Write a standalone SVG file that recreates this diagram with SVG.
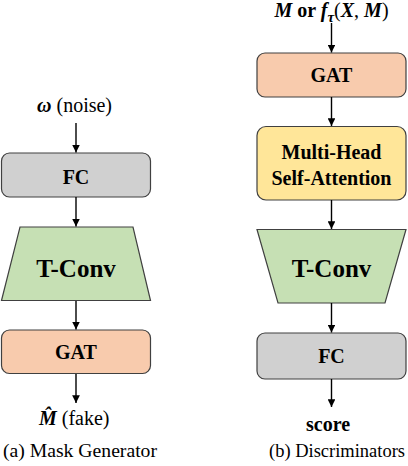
<svg xmlns="http://www.w3.org/2000/svg" width="408" height="466" viewBox="0 0 408 466">
<style>
.box{stroke:#404040;stroke-width:1.2}
.fc{fill:#d0d0d0}.gat{fill:#f8cbad}.tc{fill:#c6e0b4}.mh{fill:#ffe699}
.lbl{font-family:"Liberation Serif","Times New Roman",serif;font-weight:bold;font-size:20px;text-anchor:middle;fill:#000}
.big{font-size:25px}
.txt{font-family:"Liberation Serif","Times New Roman",serif;font-size:20px;fill:#000}
.cap{font-family:"Liberation Serif","Times New Roman",serif;font-size:19px;fill:#000}
.bi{font-weight:bold;font-style:italic}
.b{font-weight:bold}
.edge{stroke:#000;stroke-width:1.4;fill:none;marker-end:url(#ah)}
</style>
<defs>
<marker id="ah" viewBox="0 0 10 10" refX="10" refY="5" markerWidth="5.5" markerHeight="5.5" markerUnits="strokeWidth" orient="auto">
<path d="M0,0 L10,5 L0,10 z" fill="#000"/>
</marker>
</defs>

<!-- Left: Mask Generator -->
<g id="noise-label"><text class="txt" x="37" y="112" font-size="21.5"><tspan class="bi">ω</tspan> (noise)</text></g>
<g id="gen-fc"><rect class="box fc" x="1.5" y="153" width="149" height="44" rx="8"/><text class="lbl" x="76" y="184">FC</text></g>
<g id="gen-tconv"><path class="box tc" d="M20,227 L133,227 L150.5,300.5 L1.5,300.5 Z"/><text class="lbl big" x="76" y="277">T-Conv</text></g>
<g id="gen-gat"><rect class="box gat" x="1.5" y="330" width="149" height="43.5" rx="8"/><text class="lbl" x="76" y="359">GAT</text></g>
<g id="fake-label"><text class="txt" x="39" y="425" font-size="20.5"><tspan class="bi">M̂</tspan> (fake)</text></g>
<g id="caption-a"><text class="cap" x="3" y="457" textLength="154" lengthAdjust="spacingAndGlyphs">(a)  Mask Generator</text></g>

<!-- Right: Discriminators -->
<g id="input-label"><text class="txt" x="331.5" y="17" font-size="21" text-anchor="middle"><tspan class="bi">M</tspan><tspan class="b"> or </tspan><tspan class="bi">f</tspan><tspan class="bi" font-size="15" dy="5">τ</tspan><tspan dy="-5">(</tspan><tspan class="bi">X</tspan>, <tspan class="bi">M</tspan>)</text></g>
<g id="disc-gat"><rect class="box gat" x="257" y="53" width="149" height="44" rx="8"/><text class="lbl" x="331.5" y="82">GAT</text></g>
<g id="disc-mhsa"><rect class="box mh" x="257" y="126.5" width="149" height="73.5" rx="9"/><text class="lbl" x="331.5" y="159">Multi-Head</text><text class="lbl" x="331.5" y="185">Self-Attention</text></g>
<g id="disc-tconv"><path class="box tc" d="M257,229.5 L406,229.5 L385,303 L278,303 Z"/><text class="lbl big" x="331.5" y="277">T-Conv</text></g>
<g id="disc-fc"><rect class="box fc" x="257" y="333" width="149" height="46" rx="8"/><text class="lbl" x="331.5" y="363">FC</text></g>
<g id="score-label"><text class="txt b" x="328" y="431" font-size="19" text-anchor="middle">score</text></g>
<g id="caption-b"><text class="cap" x="269" y="457" textLength="136" lengthAdjust="spacingAndGlyphs">(b)  Discriminators</text></g>

<g id="connectors">
<line class="edge" x1="76" y1="123" x2="76" y2="152.5"/>
<line class="edge" x1="76" y1="197" x2="76" y2="226.5"/>
<line class="edge" x1="76" y1="301" x2="76" y2="329.5"/>
<line class="edge" x1="76" y1="374" x2="76" y2="403"/>
<line class="edge" x1="331.5" y1="23" x2="331.5" y2="52.5"/>
<line class="edge" x1="331.5" y1="97" x2="331.5" y2="126"/>
<line class="edge" x1="331.5" y1="200" x2="331.5" y2="229"/>
<line class="edge" x1="331.5" y1="303" x2="331.5" y2="332.5"/>
<line class="edge" x1="331.5" y1="379" x2="331.5" y2="407"/>
</g>
</svg>
